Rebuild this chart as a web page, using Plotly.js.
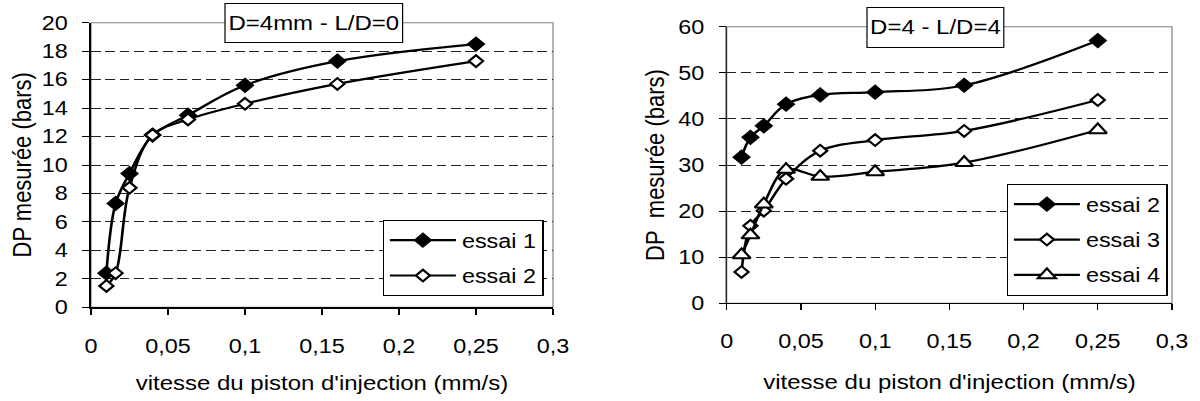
<!DOCTYPE html>
<html>
<head>
<meta charset="utf-8">
<script src="https://cdn.plot.ly/plotly-3.0.1.min.js"></script>
<style>
html,body{margin:0;padding:0;background:#fff;overflow:hidden;}
#wrap{width:1200px;height:401px;overflow:hidden;}
#chart{width:1000px;height:401px;transform:scaleX(1.2);transform-origin:0 0;}
</style>
</head>
<body>
<div id="wrap"><div id="chart"></div></div>
<script>
// ---- data ----
const vitesse = [0.01, 0.016, 0.025, 0.04, 0.063, 0.1, 0.16, 0.25];
const leftEssai1 = [2.4, 7.3, 9.4, 12.1, 13.5, 15.6, 17.3, 18.5];
const leftEssai2 = [1.5, 2.4, 8.4, 12.1, 13.2, 14.3, 15.7, 17.3];
const rightEssai2 = [31.7, 36.0, 38.5, 43.2, 45.2, 45.8, 47.3, 57.0];
const rightEssai3 = [6.8, 16.8, 20.1, 27.0, 33.1, 35.4, 37.4, 44.1];
const rightEssai4 = [10.5, 14.8, 21.5, 29.0, 27.5, 28.5, 30.5, 37.6];
const xTickVals = [0, 0.05, 0.1, 0.15, 0.2, 0.25, 0.3];
const xTickText = ['0', '0,05', '0,1', '0,15', '0,2', '0,25', '0,3'];
const leftYTicks = [0, 2, 4, 6, 8, 10, 12, 14, 16, 18, 20];
const rightYTicks = [0, 10, 20, 30, 40, 50, 60];
const leftTitle = 'D=4mm - L/D=0';
const rightTitle = 'D=4 - L/D=4';
const xTitle = "vitesse du piston d'injection (mm/s)";
const leftYTitle = 'DP mesurée (bars)';
const rightYTitle = 'DP\u00a0 mesurée (bars)';

// ---- geometry (reference pixel frame 1200x401, page stretched 1.2x horizontally) ----
const W = 1000, H = 401;
const RW = 1200;
const FONT = 'Liberation Sans, Arial, sans-serif';
const TICK_FS = 19.5, XT_FS = 20, YT_FS = 22, LEG_FS = 19.5, BOX_FS = 20;

function mk(x, y, name, xa, ya, leg, symbol, fill, size) {
  return {
    x: x, y: y, name: name, type: 'scatter', mode: 'lines+markers',
    xaxis: xa, yaxis: ya, legend: leg, legendgroup: name + xa,
    line: {color: '#000', width: 2.2, shape: 'spline', smoothing: 1},
    marker: {symbol: symbol, size: size, color: fill, line: {color: '#000', width: fill === '#fff' ? 2 : 1}},
    hoverinfo: 'x+y'
  };
}

const traces = [
  mk(vitesse, leftEssai1, 'essai 1', 'x', 'y', 'legend', 'diamond', '#000', 11),
  mk(vitesse, leftEssai2, 'essai 2', 'x', 'y', 'legend', 'diamond', '#fff', 9),
  mk(vitesse, rightEssai2, 'essai 2', 'x2', 'y2', 'legend2', 'diamond', '#000', 11),
  mk(vitesse, rightEssai3, 'essai 3', 'x2', 'y2', 'legend2', 'diamond', '#fff', 9),
  mk(vitesse, rightEssai4, 'essai 4', 'x2', 'y2', 'legend2', 'triangle-up', '#fff', 13)
];

function xax(dom, anchor, lw) {
  return {
    domain: dom, anchor: anchor, range: [0, 0.3],
    tickmode: 'array', tickvals: xTickVals, ticktext: xTickText,
    ticks: 'outside', ticklen: 6, tickwidth: 1, tickcolor: '#000',
    ticklabelstandoff: 14,
    showline: true, linecolor: '#000', linewidth: lw,
    showgrid: false, zeroline: false, fixedrange: true,
    tickfont: {family: FONT, size: TICK_FS, color: '#000'}
  };
}
function yax(dom, anchor, rng, ticks, lw) {
  return {
    domain: dom, anchor: anchor, range: rng,
    tickmode: 'array', tickvals: ticks,
    ticks: 'outside', ticklen: 5.8, tickwidth: 1, tickcolor: '#000',
    ticklabelstandoff: 8,
    showline: true, linecolor: '#000', linewidth: lw,
    showgrid: true, gridcolor: '#222', gridwidth: 1, griddash: '8px,4px',
    zeroline: false, fixedrange: true,
    tickfont: {family: FONT, size: TICK_FS, color: '#000'}
  };
}

function leg(x, y) {
  return {
    x: x, y: y, xanchor: 'left', yanchor: 'top',
    bgcolor: '#fff', bordercolor: '#000', borderwidth: 1,
    font: {family: FONT, size: LEG_FS, color: '#000'},
    traceorder: 'grouped', tracegroupgap: 7, itemwidth: 55
  };
}

function axTitle(text, x, y, size, angle) {
  return {text: text, xref: 'paper', yref: 'paper', x: x, y: y,
    xanchor: 'center', yanchor: 'middle', showarrow: false, textangle: angle,
    font: {family: FONT, size: size, color: '#000'}};
}

const layout = {
  width: W, height: H,
  margin: {l: 0, r: 0, t: 0, b: 0},
  paper_bgcolor: '#fff', plot_bgcolor: 'rgba(0,0,0,0)',
  font: {family: FONT, size: TICK_FS, color: '#000'},
  separators: ', ',
  showlegend: true,
  xaxis: xax([91 / RW, 553 / RW], 'y', 2),
  yaxis: yax([1 - 307.3 / H, 1 - 22.7 / H], 'x', [0, 20], leftYTicks, 1.7),
  xaxis2: xax([726.7 / RW, 1172 / RW], 'y2', 1),
  yaxis2: yax([1 - 303.3 / H, 1 - 26.7 / H], 'x2', [0, 60], rightYTicks, 0.9),
  legend: leg(382.7 / RW, 1 - 220 / H),
  legend2: leg(1006.7 / RW, 1 - 184 / H),
  shapes: [
    {type: 'rect', xref: 'x domain', yref: 'y domain', x0: 0, x1: 1, y0: 0, y1: 1,
     line: {color: '#808080', width: 1}, layer: 'below'},
    {type: 'rect', xref: 'x2 domain', yref: 'y2 domain', x0: 0, x1: 1, y0: 0, y1: 1,
     line: {color: '#808080', width: 1}, layer: 'below'}
  ],
  annotations: [
    {text: leftTitle, xref: 'paper', yref: 'paper', x: 313.7 / RW, y: 1 - 23.3 / H,
     xanchor: 'center', yanchor: 'middle', showarrow: false,
     bgcolor: '#fff', bordercolor: '#000', borderwidth: 1, borderpad: 0,
     width: 147, height: 38, font: {family: FONT, size: BOX_FS, color: '#000'}},
    {text: rightTitle, xref: 'paper', yref: 'paper', x: 935.2 / RW, y: 1 - 27.2 / H,
     xanchor: 'center', yanchor: 'middle', showarrow: false,
     bgcolor: '#fff', bordercolor: '#000', borderwidth: 1, borderpad: 0,
     width: 113, height: 39, font: {family: FONT, size: BOX_FS, color: '#000'}},
    axTitle(xTitle, 322 / RW, 1 - 383 / H, XT_FS, 0),
    axTitle(xTitle, 949.3 / RW, 1 - 381.7 / H, XT_FS, 0),
    axTitle(leftYTitle, 21 / RW, 1 - 165 / H, YT_FS, -90),
    axTitle(rightYTitle, 654 / RW, 1 - 165 / H, YT_FS, -90)
  ]
};

Plotly.newPlot('chart', traces, layout, {displayModeBar: false, staticPlot: true});
</script>
</body>
</html>
